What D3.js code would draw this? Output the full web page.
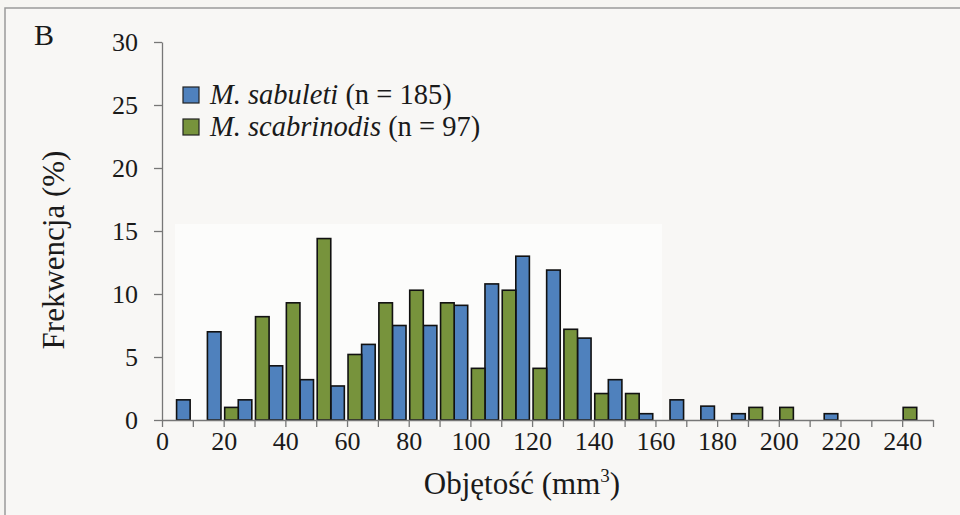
<!DOCTYPE html>
<html>
<head>
<meta charset="utf-8">
<script src="https://cdn.jsdelivr.net/npm/d3@7"></script>
<style>
  body { margin: 0; background: #f6f5f2; }
  svg { display: block; }
  text { font-family: "Liberation Serif", "Times New Roman", serif; fill: #1a1a1a; }
</style>
</head>
<body>
<svg></svg>
<script>
// bin lower edges (mm3), 10 wide
var bins = [0,10,20,30,40,50,60,70,80,90,100,110,120,130,140,150,160,170,180,190,200,210,220,230,240];
// percent per bin
var sabuleti    = [1.6,7.0,1.6,4.3,3.2,2.7,6.0,7.5,7.5,9.1,10.8,13.0,11.9,6.5,3.2,0.5,1.6,1.1,0.5,0,0,0.5,0,0,0];
var scabrinodis = [0,0,1.0,8.2,9.3,14.4,5.2,9.3,10.3,9.3,4.1,10.3,4.1,7.2,2.1,2.1,0,0,0,1.0,1.0,0,0,0,1.0];

var yTicks = [0,5,10,15,20,25,30];
var xLabels = [0,20,40,60,80,100,120,140,160,180,200,220,240];

var series = [
    {name: 'M. sabuleti', n: 185, values: sabuleti, colour: '#4f81bd', slot: 1},
    {name: 'M. scabrinodis', n: 97, values: scabrinodis, colour: '#77933c', slot: 0}
];

var width = 960, height = 515;
var serif = '"Liberation Serif", "Times New Roman", serif';

var svg = d3.select('svg')
    .attr('width', width)
    .attr('height', height);

var x = d3.scaleLinear().domain([0, 250]).range([162, 933]);
var y = d3.scaleLinear().domain([0, 30]).range([420, 42]);

// outer frame (only top/left visible in the scan)
svg.append('rect')
    .attr('x', 5).attr('y', 8)
    .attr('width', 1000).attr('height', 1000)
    .attr('fill', '#f8f7f5')
    .attr('stroke', '#9a9a9a')
    .attr('stroke-width', 1.5);

// faint lighter patch behind the plot
svg.append('rect')
    .attr('x', 175).attr('y', 224)
    .attr('width', 487).attr('height', 196)
    .attr('fill', '#fcfcfb');

var step = x(10) - x(0);
var barW = step * 0.44;

series.forEach(function(s) {
    svg.append('g').selectAll('rect')
        .data(bins.map(function(b, i) { return {b: b, v: s.values[i]}; }).filter(function(d) { return d.v > 0; }))
        .enter().append('rect')
        .attr('x', function(d) { return x(d.b) + 1 + s.slot * barW; })
        .attr('y', function(d) { return y(d.v); })
        .attr('width', barW)
        .attr('height', function(d) { return y(0) - y(d.v); })
        .attr('fill', s.colour)
        .attr('stroke', '#111')
        .attr('stroke-width', 1.6);
});

// y axis
var yAxis = svg.append('g')
    .attr('transform', `translate(${x(0)},0)`)
    .call(d3.axisLeft(y).tickValues(yTicks).tickSize(8).tickPadding(16).tickSizeOuter(0));

// x axis: tick every 10, label every 20
var xAxis = svg.append('g')
    .attr('transform', `translate(0,${y(0)})`)
    .call(d3.axisBottom(x).tickValues(d3.range(0, 251, 10)).tickSize(7).tickSizeOuter(0)
        .tickFormat(function(d) { return xLabels.indexOf(d) >= 0 ? d : ''; }).tickPadding(5));

[yAxis, xAxis].forEach(function(a) {
    a.attr('font-family', serif);
    a.select('.domain').attr('stroke', '#777').attr('stroke-width', 1.3);
    a.selectAll('.tick line').attr('stroke', '#777').attr('stroke-width', 1.3);
    a.selectAll('text')
        .style('font-family', serif)
        .style('font-size', '26px')
        .attr('fill', '#1a1a1a');
});

// axis titles
var xt = svg.append('text')
    .attr('x', 522).attr('y', 494)
    .attr('text-anchor', 'middle')
    .style('font-size', '31px')
    .text('Objętość (mm');
xt.append('tspan').attr('dy', -12).style('font-size', '19px').text('3');
xt.append('tspan').attr('dy', 12).text(')');

svg.append('text')
    .attr('transform', 'translate(64,250) rotate(-90)')
    .attr('text-anchor', 'middle')
    .style('font-size', '31px')
    .text('Frekwencja (%)');

svg.append('text')
    .attr('x', 34).attr('y', 45)
    .style('font-size', '30px')
    .text('B');

// legend
var legend = svg.append('g');
[series[0], series[1]].forEach(function(s, i) {
    var ly = 96 + i * 32;
    legend.append('rect')
        .attr('x', 183).attr('y', ly - 9)
        .attr('width', 16).attr('height', 16)
        .attr('fill', s.colour)
        .attr('stroke', '#222')
        .attr('stroke-width', 1.2);
    var t = legend.append('text')
        .attr('x', 210).attr('y', ly + 8)
        .style('font-size', '28.5px');
    t.append('tspan').style('font-style', 'italic').text(s.name);
    t.append('tspan').text(` (n = ${s.n})`);
});
</script>
</body>
</html>
